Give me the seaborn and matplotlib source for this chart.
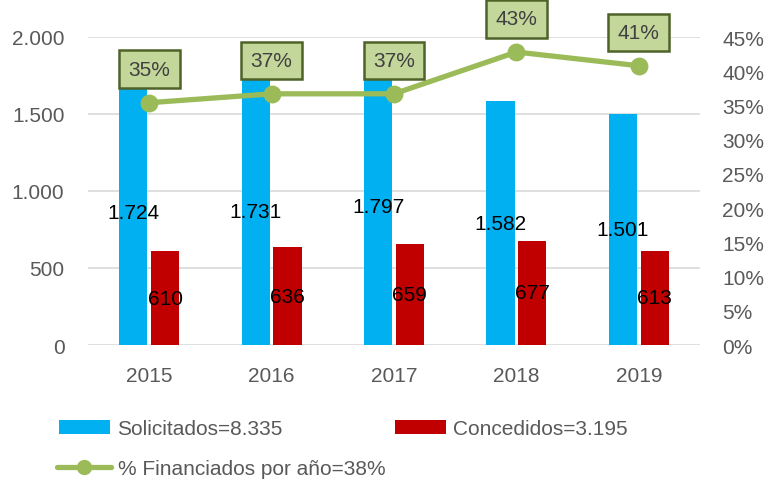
import matplotlib
matplotlib.use("Agg")
import matplotlib.pyplot as plt
import seaborn as sns
import pandas as pd
from matplotlib.patches import Patch
from matplotlib.lines import Line2D
from matplotlib.ticker import FuncFormatter, FixedLocator

# ---- data ----
years = ["2015", "2016", "2017", "2018", "2019"]
solicitados = [1724, 1731, 1797, 1582, 1501]
concedidos = [610, 636, 659, 677, 613]
pct_financiados = [0.354, 0.367, 0.367, 0.428, 0.408]
pct_labels = ["35%", "37%", "37%", "43%", "41%"]
series_names = ["Solicitados", "Concedidos"]
legend_labels = ["Solicitados=8.335", "Concedidos=3.195", "% Financiados por año=38%"]
left_ticks = [0, 500, 1000, 1500, 2000]
right_ticks = [0, 0.05, 0.10, 0.15, 0.20, 0.25, 0.30, 0.35, 0.40, 0.45]

BLUE = "#00b0f0"
RED = "#c00000"
GREEN = "#9bbb59"
BOX_FC = "#c4d79b"
BOX_EC = "#4f6228"
GRAY = "#595959"

sns.set_theme(style="white")
plt.rcParams["font.family"] = ["Liberation Sans", "DejaVu Sans"]
FS = 15

df = pd.DataFrame({
    "year": years * 2,
    "value": solicitados + concedidos,
    "serie": [series_names[0]] * len(years) + [series_names[1]] * len(years),
})

fig = plt.figure(figsize=(7.69, 4.85), dpi=100)
ax = fig.add_axes([88 / 769, 1 - 346 / 485, 612 / 769, 308 / 485])

sns.barplot(data=df, x="year", y="value", hue="serie", order=years,
            hue_order=series_names, palette=[BLUE, RED], width=0.52, gap=0.115,
            saturation=1, legend=False, ax=ax, linewidth=0)

ax.set_ylim(0, 2000)
ax.yaxis.set_major_locator(FixedLocator(left_ticks))
ax.yaxis.set_major_formatter(FuncFormatter(lambda v, p: f"{int(v):,}".replace(",", ".")))
ax.grid(axis="y", color="#d9d9d9", linewidth=1.2)
ax.set_axisbelow(True)
for s in ax.spines.values():
    s.set_visible(False)
ax.set_xlabel("")
ax.set_ylabel("")
ax.tick_params(axis="y", length=0, pad=17, labelsize=FS, labelcolor=GRAY)
ax.tick_params(axis="x", length=0, pad=15, labelsize=FS, labelcolor=GRAY)

fmt = lambda v: f"{v:,}".replace(",", ".")
ax.bar_label(ax.containers[0], labels=[fmt(v) for v in solicitados],
             label_type="center", fontsize=FS, color="black")
ax.bar_label(ax.containers[1], labels=[fmt(v) for v in concedidos],
             label_type="center", fontsize=FS, color="black")

ax2 = ax.twinx()
sns.pointplot(x=years, y=pct_financiados, ax=ax2, color=GREEN, markers="o",
              linestyles="-", markersize=10, linewidth=3.8, errorbar=None)
ax2.set_ylim(0, 0.45)
ax2.set_xlim(ax.get_xlim())
ax2.yaxis.set_major_locator(FixedLocator(right_ticks))
ax2.yaxis.set_major_formatter(FuncFormatter(lambda v, p: f"{v * 100:.0f}%"))
ax2.grid(False)
for s in ax2.spines.values():
    s.set_visible(False)
ax2.set_xlabel("")
ax2.set_ylabel("")
ax2.tick_params(axis="y", length=0, pad=16, labelsize=FS, labelcolor=GRAY)

for i, (p, lab) in enumerate(zip(pct_financiados, pct_labels)):
    ax2.annotate(lab, xy=(i, p), xytext=(0, 24), textcoords="offset points",
                 ha="center", va="center", fontsize=FS, color="#404040",
                 bbox=dict(boxstyle="square,pad=0.45", fc=BOX_FC, ec=BOX_EC, lw=1.8),
                 zorder=10)

# ---- legend ----
common = dict(frameon=False, fontsize=FS, labelcolor=GRAY, borderpad=0,
              borderaxespad=0, handletextpad=0.33, loc="center left")
h_sol = Patch(facecolor=BLUE, edgecolor="none")
h_con = Patch(facecolor=RED, edgecolor="none")
h_line = Line2D([], [], color=GREEN, lw=3.8, marker="o", markersize=10)
fig.legend(handles=[h_sol], labels=[legend_labels[0]], bbox_to_anchor=(59 / 769, 1 - 430 / 485),
           handlelength=2.45, handleheight=0.67, **common)
fig.legend(handles=[h_con], labels=[legend_labels[1]], bbox_to_anchor=(395 / 769, 1 - 430 / 485),
           handlelength=2.45, handleheight=0.67, **common)
fig.legend(handles=[h_line], labels=[legend_labels[2]], bbox_to_anchor=(57 / 769, 1 - 470 / 485),
           handlelength=2.6, **common)

fig.savefig("out.png", dpi=100)
